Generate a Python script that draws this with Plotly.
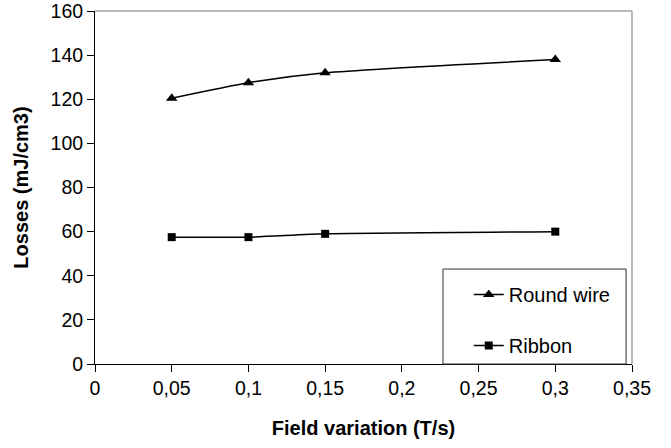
import plotly.graph_objects as go

field = [0.05, 0.1, 0.15, 0.3]
round_wire = [120.5, 127.5, 132, 138]
ribbon = [57.5, 57.5, 59, 60]
x_ticks = [0, 0.05, 0.1, 0.15, 0.2, 0.25, 0.3, 0.35]
x_labels = ["0", "0,05", "0,1", "0,15", "0,2", "0,25", "0,3", "0,35"]
y_ticks = [0, 20, 40, 60, 80, 100, 120, 140, 160]

font = "Liberation Sans, Arial, sans-serif"

fig = go.Figure()
fig.add_trace(go.Scatter(x=field, y=round_wire, name="Round wire", mode="lines+markers",
                         line=dict(color="black", width=1.5, shape="spline", smoothing=0.6),
                         marker=dict(symbol="triangle-up", size=10, color="black"),
                         legendgroup="a"))
fig.add_trace(go.Scatter(x=field, y=ribbon, name="Ribbon", mode="lines+markers",
                         line=dict(color="black", width=1.5, shape="spline", smoothing=0.6),
                         marker=dict(symbol="square", size=8, color="black"),
                         legendgroup="b"))

# plot-area border (top and right, gray)
fig.add_shape(type="line", xref="paper", yref="paper", x0=0, x1=1, y0=1, y1=1,
              line=dict(color="#a0a0a0", width=1.5), layer="above")
fig.add_shape(type="line", xref="paper", yref="paper", x0=1, x1=1, y0=0, y1=1,
              line=dict(color="#a0a0a0", width=1.5), layer="above")
# legend box
fig.add_shape(type="rect", xref="paper", yref="paper", x0=0.648, x1=0.989, y0=0, y1=0.269,
              line=dict(color="#303030", width=1), fillcolor="white", layer="above")

fig.update_layout(
    width=671, height=448,
    margin=dict(l=95, r=39, t=11, b=84),
    paper_bgcolor="white", plot_bgcolor="white",
    font=dict(family=font, size=19.5, color="black"),
    showlegend=True,
    legend=dict(x=0.696, y=0.252, xanchor="left", yanchor="top", bgcolor="rgba(0,0,0,0)",
                borderwidth=0, tracegroupgap=22, font=dict(size=20)),
    xaxis=dict(range=[0, 0.35], tickvals=x_ticks, ticktext=x_labels, showgrid=False,
               zeroline=False, showline=True, linecolor="black", linewidth=1,
               ticks="outside", ticklen=7, tickcolor="black", automargin=False,
               ticklabeloverflow="allow",
               title=dict(text="<b>Field variation (T/s)</b>", font=dict(size=20), standoff=22)),
    yaxis=dict(range=[0, 160], tickvals=y_ticks, showgrid=False, zeroline=False,
               showline=True, linecolor="black", linewidth=1,
               ticks="outside", ticklen=7, tickcolor="black", automargin=False,
               ticklabeloverflow="allow",
               title=dict(text="<b>Losses (mJ/cm3)</b>", font=dict(size=20), standoff=16)),
)

fig.write_html("out.html", config={"displayModeBar": False},
               post_script="document.body.style.margin='0px';")
